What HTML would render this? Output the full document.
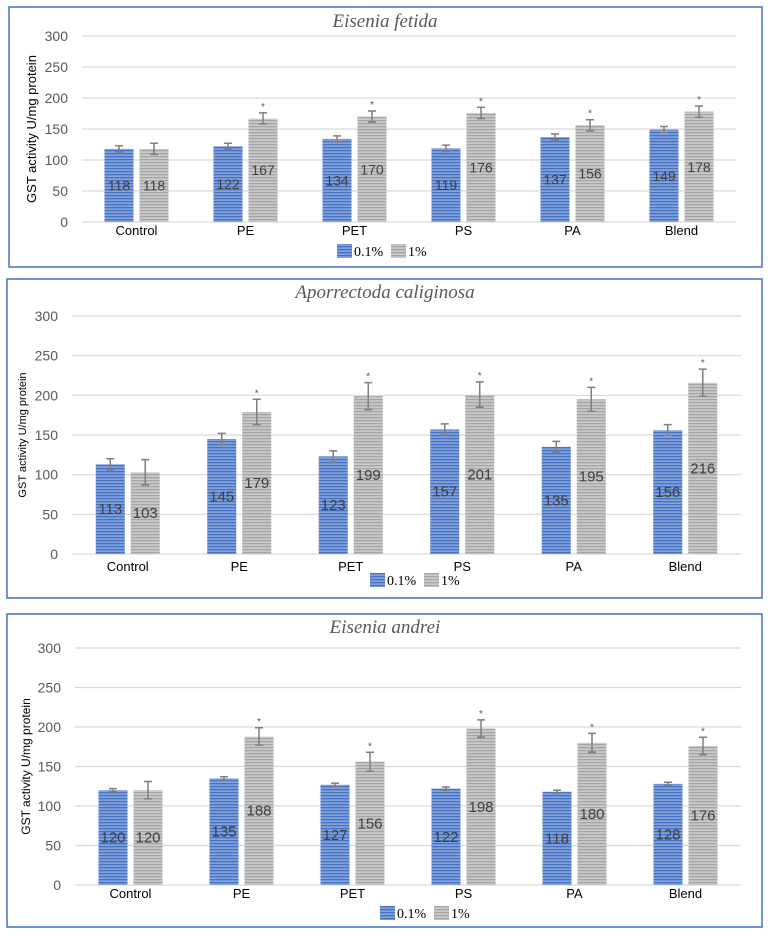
<!DOCTYPE html>
<html><head><meta charset="utf-8"><style>
body{margin:0;background:#fff;width:770px;height:939px;overflow:hidden}
svg{display:block}
text{font-family:"Liberation Sans",sans-serif}
text.serif{font-family:"Liberation Serif",serif}
</style></head><body>
<svg id="fig" width="770" height="939" xmlns="http://www.w3.org/2000/svg">
<defs>
<pattern id="pb" width="4" height="3" patternUnits="userSpaceOnUse"><rect width="4" height="3" fill="#4472c4"/><rect y="1.5" width="4" height="1.2" fill="#9fb6e3"/></pattern>
<pattern id="pg" width="4" height="3" patternUnits="userSpaceOnUse"><rect width="4" height="3" fill="#a5a5a5"/><rect y="1.5" width="4" height="1.2" fill="#d9d9d9"/></pattern>
</defs>
</svg>
<script>
const categories=["Control","PE","PET","PS","PA","Blend"];
const yTicks=[0,50,100,150,200,250,300];
const fetidaLow=[118,122,134,119,137,149];
const fetidaHigh=[118,167,170,176,156,178];
const fetidaErrLow=[5,5,5,5,5,5];
const fetidaErrHigh=[9,9,9,9,9,9];
const calLow=[113,145,123,157,135,156];
const calHigh=[103,179,199,201,195,216];
const calErrLow=[7,7,7,7,7,7];
const calErrHigh=[16,16,17,16,15,17];
const andreiLow=[120,135,127,122,118,128];
const andreiHigh=[120,188,156,198,180,176];
const andreiErrLow=[2,2,2,2,2,2];
const andreiErrHigh=[11,11,12,11,12,11];
const seriesNames=["0.1%","1%"];

const NS="http://www.w3.org/2000/svg";
const svg=document.getElementById('fig');
function mk(tag,attrs,parent,txt){const e=document.createElementNS(NS,tag);for(const k in attrs)e.setAttribute(k,attrs[k]);if(txt!==undefined)e.textContent=txt;(parent||svg).appendChild(e);return e;}

const panels=[
 {name:'eisenia-fetida',title:'Eisenia fetida',box:[9,7,753,260],left:82,right:736,top:36,bottom:222,titleY:27,titleFs:19,ytFs:13,ytX:36,tickFs:14,labY:235,legY:251,legX:337,low:fetidaLow,high:fetidaHigh,el:fetidaErrLow,eh:fetidaErrHigh,bw:29,gap:6,lblFs:14},
 {name:'aporrectoda-caliginosa',title:'Aporrectoda caliginosa',box:[7,279,755,319],left:72,right:741,top:316,bottom:554,titleY:298,titleFs:19,ytFs:11,ytX:26,tickFs:14,labY:571,legY:580,legX:370,low:calLow,high:calHigh,el:calErrLow,eh:calErrHigh,bw:29,gap:6,lblFs:15},
 {name:'eisenia-andrei',title:'Eisenia andrei',box:[7,614,755,313],left:75,right:741,top:648,bottom:885,titleY:633,titleFs:19,ytFs:12,ytX:30,tickFs:14,labY:898,legY:913,legX:380,low:andreiLow,high:andreiHigh,el:andreiErrLow,eh:andreiErrHigh,bw:29,gap:6,lblFs:15}
];

panels.forEach(p=>{
 const g=mk('g',{});
 
 
 const b=mk('rect',{x:p.box[0],y:p.box[1],width:p.box[2],height:p.box[3],fill:'none',stroke:'#4472c4','stroke-width':1.5},g);
 
 
 const t=mk('text',{x:385,y:p.titleY,'text-anchor':'middle','font-size':p.titleFs,'font-style':'italic',fill:'#595959',class:'serif'},g,p.title);
 
 
 const y=v=>p.bottom-(v/300)*(p.bottom-p.top);
 const step=(p.right-p.left)/categories.length;
 const cx=i=>p.left+step*(i+0.5);
 yTicks.forEach(v=>{
  const l=mk('line',{x1:p.left,x2:p.right,y1:y(v),y2:y(v),stroke:'#d9d9d9','stroke-width':1.2},g);
  
  
  const tl=mk('text',{x:p.left-14,y:y(v)+5,'text-anchor':'end','font-size':p.tickFs,fill:'#595959'},g,v);
  
  
 });
 const yc=(p.top+p.bottom)/2;
 const at=mk('text',{x:p.ytX,y:yc,transform:`rotate(-90 ${p.ytX} ${yc})`,'text-anchor':'middle','font-size':p.ytFs,fill:'#000'},g,'GST activity U/mg protein');
 
 
 categories.forEach((c,i)=>{
  const cl=mk('text',{x:cx(i),y:p.labY,'text-anchor':'middle','font-size':13,fill:'#000'},g,c);
  
  
  [[p.low,p.el,'url(#pb)',-1],[p.high,p.eh,'url(#pg)',1]].forEach((s,si)=>{
   const v=s[0][i],e=s[1][i];
   const x0=s[3]<0?cx(i)-p.gap/2-p.bw:cx(i)+p.gap/2;
   const r=mk('rect',{x:x0,y:y(v),width:p.bw,height:y(0)-y(v),fill:s[2]},g);
   
   
   const mx=x0+p.bw/2;
   const eb=mk('path',{d:`M${mx} ${y(v+e)}V${y(v-e)}M${mx-4} ${y(v+e)}H${mx+4}M${mx-4} ${y(v-e)}H${mx+4}`,stroke:'#7f7f7f','stroke-width':1.5,fill:'none'},g);
   
   
   const vl=mk('text',{x:mx,y:y(v/2)+5,'text-anchor':'middle','font-size':p.lblFs,fill:'#404040'},g,v);
   
   
   if(si===1&&i>0){
    const st=mk('text',{x:mx,y:y(v+e)-3,'text-anchor':'middle','font-size':10,fill:'#595959'},g,'*');
    
    
   }
  });
 });
 const lg=mk('g',{},g);
 
 
 const lb=mk('rect',{x:p.legX,y:p.legY-7,width:15,height:14,fill:'url(#pb)'},lg);
 
 
 const lt=mk('text',{x:p.legX+17,y:p.legY+5,'font-size':14,fill:'#000',class:'serif'},lg,seriesNames[0]);
 
 
 const lg2=mk('rect',{x:p.legX+54,y:p.legY-7,width:15,height:14,fill:'url(#pg)'},lg);
 
 
 const lt2=mk('text',{x:p.legX+71,y:p.legY+5,'font-size':14,fill:'#000',class:'serif'},lg,seriesNames[1]);
 
 
});
</script>
</body></html>
